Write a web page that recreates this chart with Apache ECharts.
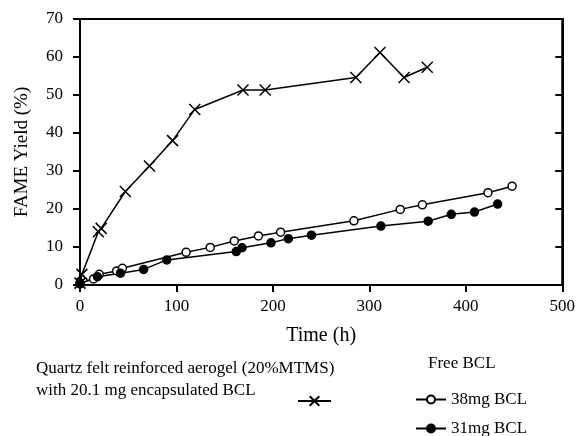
<!DOCTYPE html>
<html><head><meta charset="utf-8">
<script src="https://cdn.jsdelivr.net/npm/echarts@6/dist/echarts.min.js"></script>
<style>html,body{margin:0;padding:0;background:#fff}#c{width:578px;height:436px}</style>
</head><body><div id="c"></div>
<script>
// Quartz felt reinforced aerogel (20%MTMS), 20.1 mg encapsulated BCL
const aerogelTime = [0, 2, 19, 22, 47, 72, 96, 119, 169, 192, 286, 311, 336, 360];
const aerogelYield = [0.5, 2.8, 14.0, 14.9, 24.6, 31.3, 38.0, 46.2, 51.3, 51.3, 54.6, 61.2, 54.6, 57.3];
// Free BCL 38mg
const bcl38Time = [0, 14, 20, 38, 44, 110, 135, 160, 185, 208, 284, 332, 355, 423, 448];
const bcl38Yield = [0.5, 1.6, 2.8, 3.7, 4.4, 8.6, 9.9, 11.6, 12.9, 13.9, 16.9, 19.9, 21.1, 24.3, 26.0];
// Free BCL 31mg
const bcl31Time = [0, 18, 42, 66, 90, 162, 168, 198, 216, 240, 312, 361, 385, 409, 433];
const bcl31Yield = [0.3, 2.2, 3.1, 4.1, 6.6, 8.8, 9.8, 11.1, 12.2, 13.1, 15.5, 16.8, 18.6, 19.2, 21.3];
const xTicks = [0, 100, 200, 300, 400, 500];
const yTicks = [0, 10, 20, 30, 40, 50, 60, 70];

const zip = (a, b) => a.map((v, i) => [v, b[i]]);
const FONT = '"Liberation Serif", "DejaVu Serif", serif';
const crossPath = 'path://M0,0L10,10M10,0L0,10';

const chart = echarts.init(document.getElementById('c'), null, {renderer: 'canvas'});
const axisLine = () => ({show: true, lineStyle: {color: '#000', width: 2}});
const tick = (inside) => ({show: true, inside: inside, length: 7, lineStyle: {color: '#000', width: 2}});
chart.setOption({
  animation: false,
  backgroundColor: '#fff',
  textStyle: {fontFamily: FONT, color: '#000'},
  grid: {left: 80, right: 15, top: 19, bottom: 151, containLabel: false,
         show: true, borderColor: '#000', borderWidth: 2, backgroundColor: 'transparent'},
  xAxis: [
    {
      type: 'value', min: xTicks[0], max: xTicks[xTicks.length - 1], interval: 100,
      axisLine: axisLine(), splitLine: {show: false},
      name: 'Time (h)', nameLocation: 'middle', nameGap: 41,
      nameTextStyle: {fontFamily: FONT, fontSize: 20, color: '#000'},
      axisTick: tick(false),
      axisLabel: {fontFamily: FONT, fontSize: 17, color: '#000', margin: 13}
    }
  ],
  yAxis: [
    {
      type: 'value', min: yTicks[0], max: yTicks[yTicks.length - 1], interval: 10,
      axisLine: axisLine(), splitLine: {show: false},
      name: 'FAME Yield (%)', nameLocation: 'middle', nameGap: 48,
      nameTextStyle: {fontFamily: FONT, fontSize: 19, color: '#000'},
      axisTick: tick(false),
      axisLabel: {fontFamily: FONT, fontSize: 17, color: '#000', margin: 17}
    },
    {
      type: 'value', position: 'right', min: yTicks[0], max: yTicks[yTicks.length - 1], interval: 10,
      axisLine: axisLine(), splitLine: {show: false},
      axisTick: tick(true),
      axisLabel: {show: false}
    }
  ],
  legend: [
    {
      data: ['aerogel'], left: 292, top: 390, itemWidth: 33, itemHeight: 12,
      formatter: () => '', textStyle: {fontSize: 1}
    },
    {
      data: ['38mg BCL'], left: 410, top: 386, itemWidth: 30, itemHeight: 10,
      textStyle: {fontFamily: FONT, fontSize: 17, color: '#000'}
    },
    {
      data: ['31mg BCL'], left: 410, top: 415, itemWidth: 30, itemHeight: 10,
      textStyle: {fontFamily: FONT, fontSize: 17, color: '#000'}
    }
  ],
  graphic: [
    {type: 'text', left: 36, top: 360, style: {text: 'Quartz felt reinforced aerogel (20%MTMS)', font: '17px ' + FONT, fill: '#000'}},
    {type: 'text', left: 36, top: 382, style: {text: 'with 20.1 mg encapsulated BCL', font: '17px ' + FONT, fill: '#000'}},
    {type: 'text', left: 428, top: 355, style: {text: 'Free BCL', font: '17px ' + FONT, fill: '#000'}}
  ],
  series: [
    {
      name: 'aerogel', type: 'line', data: zip(aerogelTime, aerogelYield),
      symbol: crossPath, symbolSize: 11, showAllSymbol: true,
      lineStyle: {color: '#000', width: 1.5},
      itemStyle: {color: '#000', borderColor: '#000', borderWidth: 1.5}
    },
    {
      name: '38mg BCL', type: 'line', data: zip(bcl38Time, bcl38Yield),
      symbol: 'circle', symbolSize: 8, showAllSymbol: true,
      lineStyle: {color: '#000', width: 1.5},
      itemStyle: {color: '#fff', borderColor: '#000', borderWidth: 1.5}
    },
    {
      name: '31mg BCL', type: 'line', data: zip(bcl31Time, bcl31Yield),
      symbol: 'circle', symbolSize: 8, showAllSymbol: true,
      lineStyle: {color: '#000', width: 1.5},
      itemStyle: {color: '#000', borderColor: '#000', borderWidth: 1.5}
    },
    {
      name: 'frame', type: 'line', yAxisIndex: 1,
      data: zip(bcl31Time.slice(0, 1), bcl31Yield.slice(0, 1)),
      silent: true, symbol: 'none', lineStyle: {opacity: 0}
    }
  ]
});
</script></body></html>
